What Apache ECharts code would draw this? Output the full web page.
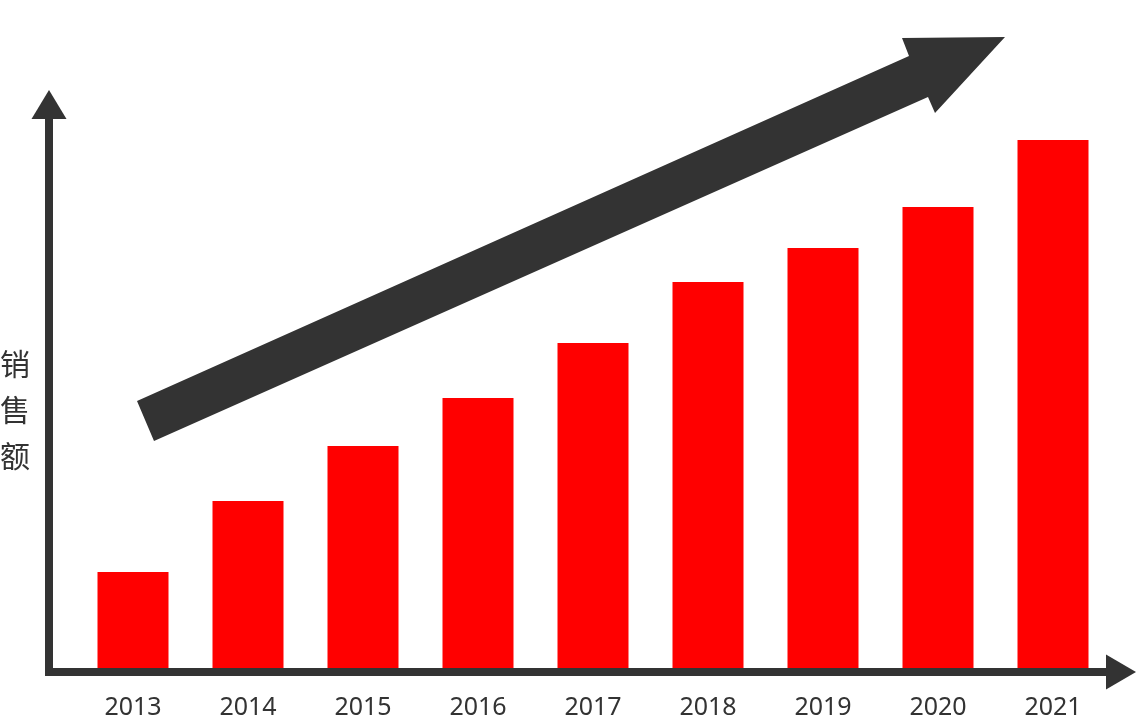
<!DOCTYPE html>
<html>
<head>
<meta charset="utf-8">
<script src="https://cdn.jsdelivr.net/npm/echarts@6/dist/echarts.min.js"></script>
<style>html,body{margin:0;padding:0;background:#fff}#c{width:1137px;height:721px}</style>
</head>
<body>
<div id="c"></div>
<script>
// Data
const years = ['2013','2014','2015','2016','2017','2018','2019','2020','2021'];
const sales = [96, 167, 222, 270, 325, 386, 420, 461, 528];
const yAxisTitle = '销\n售\n额';

const dark = '#333333';
const chart = echarts.init(document.getElementById('c'), null, {renderer: 'canvas'});
chart.setOption({
  backgroundColor: '#ffffff',
  animation: false,
  grid: [
    {left: 75.5, right: 26.5, top: 68, bottom: 53},
    {left: 49, right: 16, top: 104.5, bottom: 49}
  ],
  xAxis: [
    {type: 'category', gridIndex: 0, data: years,
     axisLine: {show: false}, axisTick: {show: false},
     axisLabel: {color: dark, fontSize: 25, fontFamily: 'Noto Sans', margin: 27}},
    {type: 'value', gridIndex: 1, min: 0, max: 1, z: 5,
     axisLine: {show: true, symbol: ['none', 'triangle'], symbolSize: [35, 30],
       lineStyle: {color: dark, width: 8, cap: 'square'}},
     axisTick: {show: false}, axisLabel: {show: false}, splitLine: {show: false}}
  ],
  yAxis: [
    {type: 'value', gridIndex: 0, min: 0, max: 600, show: false},
    {type: 'value', gridIndex: 1, min: 0, max: 1, z: 5,
     axisLine: {show: true, symbol: ['none', 'triangle'], symbolSize: [35, 29],
       lineStyle: {color: dark, width: 8, cap: 'square'}},
     axisTick: {show: false}, axisLabel: {show: false}, splitLine: {show: false}}
  ],
  series: [{
    type: 'bar', xAxisIndex: 0, yAxisIndex: 0, data: sales,
    barWidth: 71, itemStyle: {color: '#ff0000'}
  }],
  graphic: [
    {type: 'polygon', z: 10,
     shape: {points: [[137,401],[909,56],[902,38],[1005,37],[935,113],[928,97],[154,441]]},
     style: {fill: dark}},
    {type: 'text', left: 0, top: 341, z: 10,
     style: {text: yAxisTitle, font: '30px "Noto Sans CJK SC"', lineHeight: 46, fill: dark}}
  ]
});
</script>
</body>
</html>
